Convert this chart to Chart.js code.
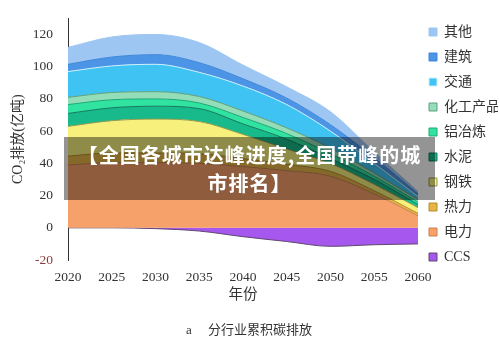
<!DOCTYPE html>
<html>
<head>
<meta charset="utf-8">
<script src="https://cdn.jsdelivr.net/npm/chart.js@4.4.1/dist/chart.umd.min.js"></script>
<style>
  html, body { margin: 0; padding: 0; background: #fff; }
  #wrap { position: relative; width: 500px; height: 337px; }
  #banner {
    position: absolute; left: 64px; top: 137px; width: 371px; height: 63px;
    box-sizing: border-box; padding-top: 4px;
    background: rgba(0, 0, 0, 0.42); color: #fff;
    font: bold 20px "Noto Sans CJK SC", sans-serif;
    letter-spacing: 1px;
    line-height: 28px; text-align: center;
  }
</style>
</head>
<body>
<div id="wrap">
  <canvas id="emissionChart" width="500" height="337"></canvas>
  <div id="banner">【全国各城市达峰进度,全国带峰的城<br>市排名】</div>
</div>
<script>
'use strict';

// data -----------------------------------------------------------------------
let years = ['2020', '2025', '2030', '2035', '2040', '2045', '2050', '2055', '2060'];
let yTickValues = [-20, 0, 20, 40, 60, 80, 100, 120];

// each sector's own slice of the stack (亿吨)
let power = [39, 40.5, 40.5, 40, 38, 35.5, 32, 21, 7.5];
let heat = [5.5, 6, 6, 6, 5, 4, 3, 2, 1.5];
let steel = [18.5, 20, 21, 20, 15, 9.5, 5, 4, 3.5];
let cement = [8, 8, 8, 8, 6.5, 6, 3, 3, 2];
let aluminium = [5.5, 5, 4.5, 3.5, 4, 3.5, 3, 2, 1.5];
let chemical = [4.5, 4.5, 4.5, 4, 4, 3.5, 3.5, 2, 1.5];
let transport = [16, 16.5, 17, 15, 15.5, 14.5, 10.5, 6, 2];
let building = [4.5, 5.5, 6, 6, 4.5, 4, 4, 3.5, 1.5];
let other = [10.5, 12.5, 12.5, 12.5, 8.5, 7, 8, 3.5, 1.5];
let ccs = [0, 0, -0.5, -2, -5.5, -8.5, -11.5, -10.5, -10];

let legendOrder = ['其他', '建筑', '交通', '化工产品', '铝冶炼', '水泥', '钢铁', '热力', '电力', 'CCS'];

// helpers --------------------------------------------------------------------
let serifFont = '"Liberation Serif", "Noto Sans CJK SC", serif';

function layer(label, values, fillColor, lineColor, fill, stack) {
  return {
    label: label,
    data: values,
    stack: stack,
    backgroundColor: fillColor,
    borderColor: lineColor,
    borderWidth: 1,
    fill: fill,
    pointRadius: 0,
    cubicInterpolationMode: 'monotone'
  };
}

let datasets = [
  layer('电力', power, '#F6A06A', '#c98152', 'origin', 'sectors'),
  layer('热力', heat, '#E6B545', '#b58c2e', '-1', 'sectors'),
  layer('钢铁', steel, '#F7F07C', '#8f9a50', '-1', 'sectors'),
  layer('水泥', cement, '#18B98B', '#137a5c', '-1', 'sectors'),
  layer('铝冶炼', aluminium, '#31E3A0', '#1fa877', '-1', 'sectors'),
  layer('化工产品', chemical, '#93DDB8', '#5f9f7c', '-1', 'sectors'),
  layer('交通', transport, '#3EC3F3', '#cdeefc', '-1', 'sectors'),
  layer('建筑', building, '#4C95E6', '#3f86d8', '-1', 'sectors'),
  layer('其他', other, '#9DC6F2', '#9DC6F2', '-1', 'sectors'),
  // CCS sits in its own stack so a zero value is not pushed to the top
  layer('CCS', ccs, '#A557EE', '#5e4a6e', 'origin', 'capture')
];

// chart ----------------------------------------------------------------------
let chartObject = {
  type: 'line',
  data: {
    labels: years,
    datasets: datasets
  },
  options: {
    responsive: false,
    animation: false,
    layout: { padding: { top: 14, right: 2, bottom: 0, left: 0 } },
    scales: {
      x: {
        grid: { display: false, drawTicks: false },
        border: { display: false },
        ticks: {
          autoSkip: false,
          maxRotation: 0,
          padding: 9,
          color: '#333',
          font: { family: serifFont, size: 13.5 }
        },
        title: {
          display: true,
          text: '年份',
          color: '#333',
          font: { family: serifFont, size: 14.5 },
          padding: { top: 0, bottom: 21 }
        },
        afterFit: function (scale) { scale.height = 65; }
      },
      y: {
        stacked: true,
        min: -20,
        max: 130,
        grid: { display: false, drawTicks: false },
        border: { display: true, color: '#333', width: 1 },
        ticks: {
          padding: 15,
          color: function (ctx) { return ctx.tick && ctx.tick.value < 0 ? '#8b3a3a' : '#333'; },
          font: { family: serifFont, size: 13.5 }
        },
        afterBuildTicks: function (axis) {
          axis.ticks = yTickValues.map(function (v) { return { value: v }; });
        },
        title: {
          display: true,
          text: 'CO₂排放(亿吨)',
          color: '#333',
          font: { family: serifFont, size: 14 },
          padding: { top: 9.6, bottom: 0 }
        },
        afterFit: function (scale) {
          scale.width = 68;
          scale.paddingTop = 18.4;
          scale.paddingBottom = 0;
        }
      }
    },
    plugins: {
      legend: {
        position: 'right',
        align: 'start',
        maxWidth: 80,
        labels: {
          boxWidth: 8,
          boxHeight: 8,
          padding: 11,
          color: '#333',
          font: { family: serifFont, size: 14 },
          sort: function (a, b) { return legendOrder.indexOf(a.text) - legendOrder.indexOf(b.text); }
        }
      },
      title: {
        display: true,
        position: 'bottom',
        text: 'a\u3000 分行业累积碳排放',
        color: '#333',
        font: { family: serifFont, size: 13, lineHeight: 0.92, weight: 'normal' },
        padding: 0
      },
      tooltip: { enabled: false }
    }
  }
};

let ctx = document.getElementById('emissionChart').getContext('2d');
let myChart = new Chart(ctx, chartObject);
</script>
</body>
</html>
